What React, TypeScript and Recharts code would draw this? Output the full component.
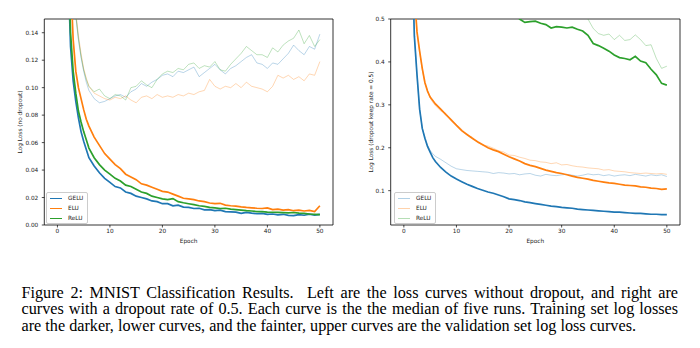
import { LineChart, Line, XAxis, YAxis, ReferenceArea } from "recharts";

// epoch positions (denser at the start where the curves drop fast)
const epochs = [
  1, 2, 2.5, 3, 3.5, 4, 4.5, 5, 5.5, 6,
  7, 8, 9, 10, 11, 12, 13, 14, 15, 16,
  17, 18, 19, 20, 21, 22, 23, 24, 25, 26,
  27, 28, 29, 30, 31, 32, 33, 34, 35, 36,
  37, 38, 39, 40, 41, 42, 43, 44, 45, 46,
  47, 48, 49, 50,
];

// ---- left: no dropout ----
const noDropGeluTrain = [
  0.4, 0.19, 0.13, 0.105, 0.09, 0.078, 0.068, 0.061, 0.055, 0.049,
  0.043, 0.038, 0.034, 0.031, 0.028, 0.027, 0.024, 0.023, 0.021, 0.02,
  0.019, 0.0175, 0.017, 0.0155, 0.0155, 0.014, 0.0145, 0.013, 0.0128, 0.012,
  0.0122, 0.011, 0.0112, 0.0105, 0.0108, 0.0098, 0.0096, 0.0094, 0.0085, 0.0092,
  0.0086, 0.0082, 0.0085, 0.0078, 0.008, 0.0074, 0.0078, 0.007, 0.0068, 0.0076,
  0.0071, 0.0079, 0.0072, 0.0078,
];
const noDropEluTrain = [
  0.5, 0.26, 0.18, 0.135, 0.112, 0.1, 0.092, 0.084, 0.077, 0.072,
  0.064, 0.058, 0.052, 0.048, 0.044, 0.041, 0.037, 0.035, 0.033, 0.03,
  0.029, 0.0275, 0.026, 0.0245, 0.024, 0.0225, 0.021, 0.0195, 0.019, 0.0185,
  0.0175, 0.017, 0.016, 0.0155, 0.0158, 0.0145, 0.014, 0.0138, 0.0132, 0.0128,
  0.0125, 0.0122, 0.012, 0.0125, 0.0112, 0.0115, 0.0108, 0.0112, 0.0104, 0.0108,
  0.0102, 0.0106, 0.0098, 0.014,
];
const noDropReluTrain = [
  0.42, 0.2, 0.14, 0.112, 0.096, 0.083, 0.075, 0.068, 0.062, 0.056,
  0.049, 0.044, 0.04, 0.037, 0.034, 0.032, 0.029, 0.028, 0.026, 0.024,
  0.023, 0.021, 0.02, 0.019, 0.0185, 0.0192, 0.017, 0.0162, 0.0155, 0.0148,
  0.014, 0.0135, 0.0128, 0.0125, 0.012, 0.0122, 0.0115, 0.0112, 0.0108, 0.0104,
  0.0102, 0.0098, 0.0097, 0.0094, 0.0093, 0.0092, 0.009, 0.0088, 0.0091, 0.0086,
  0.0084, 0.008, 0.0078, 0.0075,
];
const noDropGeluVal = [
  0.4, 0.25, 0.2, 0.17, 0.152, 0.135, 0.122, 0.112, 0.104, 0.098,
  0.092, 0.089, 0.09, 0.092, 0.094, 0.095, 0.093, 0.097, 0.099, 0.103,
  0.101, 0.104, 0.106, 0.109, 0.11, 0.108, 0.112, 0.111, 0.113, 0.115,
  0.108, 0.111, 0.114, 0.117, 0.113, 0.11, 0.114, 0.116, 0.119, 0.122,
  0.124, 0.118, 0.117, 0.114, 0.118, 0.117, 0.121, 0.125, 0.131, 0.127,
  0.124, 0.13, 0.128, 0.139,
];
const noDropEluVal = [
  0.42, 0.27, 0.21, 0.18, 0.155, 0.138, 0.125, 0.114, 0.107, 0.101,
  0.096, 0.094, 0.092, 0.091, 0.093, 0.092, 0.094, 0.091, 0.089, 0.093,
  0.094, 0.092, 0.095, 0.093, 0.094, 0.093, 0.095, 0.094, 0.096, 0.095,
  0.097, 0.098, 0.106, 0.101, 0.099, 0.101, 0.1, 0.103, 0.1, 0.104,
  0.101, 0.1, 0.099, 0.097, 0.101, 0.109, 0.107, 0.109, 0.106, 0.108,
  0.105, 0.11, 0.109, 0.119,
];
const noDropReluVal = [
  0.41, 0.26, 0.205, 0.172, 0.153, 0.136, 0.123, 0.113, 0.106, 0.101,
  0.097, 0.099, 0.094, 0.092, 0.095, 0.094, 0.091, 0.1, 0.101, 0.105,
  0.102, 0.1, 0.106, 0.11, 0.112, 0.111, 0.114, 0.113, 0.117, 0.118,
  0.114, 0.116, 0.115, 0.119, 0.113, 0.112, 0.117, 0.121, 0.125, 0.13,
  0.127, 0.124, 0.124, 0.122, 0.129, 0.126, 0.131, 0.134, 0.136, 0.142,
  0.132, 0.138, 0.13, 0.135,
];

// ---- right: dropout keep rate 0.5 ----
const dropGeluTrain = [
  0.9, 0.46, 0.37, 0.29, 0.245, 0.222, 0.203, 0.19, 0.177, 0.168,
  0.154, 0.143, 0.134, 0.127, 0.121, 0.115, 0.11, 0.105, 0.101, 0.097,
  0.094, 0.09, 0.086, 0.081, 0.079, 0.077, 0.074, 0.072, 0.07, 0.068,
  0.066, 0.064, 0.063, 0.061, 0.06, 0.059, 0.057, 0.056, 0.055, 0.054,
  0.053, 0.052, 0.051, 0.05, 0.05, 0.049, 0.048, 0.047, 0.047, 0.046,
  0.045, 0.045, 0.044, 0.044,
];
const dropEluTrain = [
  1.2, 0.56, 0.47, 0.425, 0.385, 0.352, 0.332, 0.318, 0.31, 0.302,
  0.29, 0.277, 0.265, 0.252, 0.24, 0.231, 0.222, 0.214, 0.207, 0.2,
  0.195, 0.191, 0.185, 0.179, 0.174, 0.169, 0.163, 0.159, 0.156, 0.152,
  0.148, 0.145, 0.142, 0.14, 0.137, 0.134, 0.131, 0.129, 0.127, 0.124,
  0.122, 0.12, 0.118, 0.117, 0.115, 0.113, 0.112, 0.111, 0.109, 0.108,
  0.106, 0.105, 0.103, 0.104,
];
const dropReluTrain = [
  2.3, 2.2, 2.1, 2.0, 1.9, 1.8, 1.7, 1.6, 1.5, 1.4,
  1.25, 1.12, 1.02, 0.94, 0.87, 0.81, 0.76, 0.72, 0.68, 0.65,
  0.62, 0.59, 0.565, 0.545, 0.515, 0.5, 0.492, 0.494, 0.495, 0.49,
  0.487, 0.479, 0.482, 0.481, 0.479, 0.481, 0.476, 0.472, 0.462, 0.443,
  0.438, 0.432, 0.425, 0.416, 0.41, 0.408, 0.405, 0.413, 0.402, 0.398,
  0.383, 0.37, 0.35, 0.346,
];
const dropGeluVal = [
  0.9, 0.46, 0.37, 0.29, 0.246, 0.224, 0.206, 0.194, 0.186, 0.18,
  0.173, 0.165, 0.157, 0.151, 0.149, 0.147, 0.146, 0.145, 0.144, 0.143,
  0.14, 0.142, 0.141, 0.139, 0.14, 0.137, 0.139, 0.14, 0.136, 0.134,
  0.138, 0.136, 0.135, 0.137, 0.138, 0.136, 0.134, 0.136, 0.139, 0.137,
  0.138, 0.135, 0.137, 0.134, 0.136, 0.137, 0.135, 0.138, 0.136, 0.134,
  0.137, 0.135, 0.137, 0.133,
];
const dropEluVal = [
  1.2, 0.56, 0.47, 0.424, 0.383, 0.35, 0.333, 0.316, 0.306, 0.298,
  0.286, 0.28, 0.262, 0.254, 0.243, 0.229, 0.225, 0.212, 0.206, 0.204,
  0.199, 0.193, 0.19, 0.183, 0.182, 0.178, 0.175, 0.171, 0.17, 0.167,
  0.166, 0.163, 0.165, 0.16, 0.161, 0.158, 0.156, 0.155, 0.153, 0.152,
  0.151, 0.148, 0.149, 0.146, 0.145, 0.144, 0.142, 0.141, 0.14, 0.141,
  0.14, 0.139, 0.14, 0.138,
];
const dropReluVal = [
  2.3, 2.25, 2.2, 2.15, 2.1, 2.05, 2.0, 1.95, 1.9, 1.85,
  1.75, 1.65, 1.55, 1.45, 1.36, 1.28, 1.2, 1.13, 1.07, 1.01,
  0.96, 0.91, 0.87, 0.83, 0.79, 0.76, 0.73, 0.7, 0.68, 0.66,
  0.64, 0.62, 0.6, 0.58, 0.57, 0.56, 0.545, 0.525, 0.5, 0.478,
  0.466, 0.462, 0.465, 0.452, 0.462, 0.45, 0.452, 0.463, 0.452, 0.438,
  0.44, 0.408, 0.385, 0.39,
];

const xTicks = [0, 10, 20, 30, 40, 50];
const leftYTicks = [0, 0.02, 0.04, 0.06, 0.08, 0.1, 0.12, 0.14];
const rightYTicks = [0.1, 0.2, 0.3, 0.4, 0.5];
const names = ["GELU", "ELU", "ReLU"];

const BLUE = "#1f77b4";
const ORANGE = "#ff7f0e";
const GREEN = "#2ca02c";
const colors = [BLUE, ORANGE, GREEN];
const FONT = "DejaVu Sans";
const tickStyle = { fontSize: 5.8, fill: "#222", fontFamily: FONT };

const leftData = epochs.map((epoch, i) => ({
  epoch,
  geluTrain: noDropGeluTrain[i],
  eluTrain: noDropEluTrain[i],
  reluTrain: noDropReluTrain[i],
  geluVal: noDropGeluVal[i],
  eluVal: noDropEluVal[i],
  reluVal: noDropReluVal[i],
}));

const rightData = epochs.map((epoch, i) => ({
  epoch,
  geluTrain: dropGeluTrain[i],
  eluTrain: dropEluTrain[i],
  reluTrain: dropReluTrain[i],
  geluVal: dropGeluVal[i],
  eluVal: dropEluVal[i],
  reluVal: dropReluVal[i],
}));

function LegendBox({ faint, left }: { faint: boolean; left: number }) {
  return (
    <div
      style={{
        position: "absolute",
        left,
        top: 192,
        width: 40,
        height: 30,
        border: "0.8px solid #ccc",
        borderRadius: 2,
        background: "rgba(255,255,255,0.85)",
        fontFamily: FONT,
        fontSize: 5.8,
        color: "#222",
      }}
    >
      {names.map((n, i) => (
        <div key={n} style={{ position: "absolute", left: 0, top: 1 + i * 10, height: 8, width: 40 }}>
          <div
            style={{
              position: "absolute",
              left: 3,
              top: 3.5,
              width: 12,
              height: faint ? 1 : 1.4,
              background: colors[i],
              opacity: faint ? 0.35 : 1,
            }}
          />
          <div style={{ position: "absolute", left: 21, top: 0, lineHeight: "8px" }}>{n}</div>
        </div>
      ))}
    </div>
  );
}

function Panel({ data, yDomain, yTicks, yFmt, yLabel, yAxisWidth, labelOffset, marginRight }: any) {
  return (
    <LineChart
      width={345}
      height={250}
      data={data}
      margin={{ top: 19, right: marginRight, bottom: 0, left: 0 }}
    >
      <XAxis
        dataKey="epoch"
        type="number"
        domain={[-2.5, 52.5]}
        ticks={xTicks}
        allowDataOverflow
        axisLine={false}
        tickLine={{ stroke: "#000", strokeWidth: 0.7 }}
        tickSize={2.5}
        tickMargin={1}
        height={25}
        tick={tickStyle}
        label={{
          value: "Epoch",
          position: "insideBottom",
          offset: 7,
          style: { fontSize: 5.8, fill: "#222", fontFamily: FONT },
        }}
      />
      <YAxis
        type="number"
        domain={yDomain}
        ticks={yTicks}
        allowDataOverflow
        tickFormatter={yFmt}
        axisLine={false}
        tickLine={{ stroke: "#000", strokeWidth: 0.7 }}
        tickSize={2.5}
        tickMargin={3.5}
        width={yAxisWidth}
        tick={tickStyle}
        label={{
          value: yLabel,
          angle: -90,
          position: "insideLeft",
          offset: labelOffset,
          style: { fontSize: 5.8, fill: "#222", fontFamily: FONT, textAnchor: "middle" },
        }}
      />
      <Line dataKey="geluVal" stroke={BLUE} strokeOpacity={0.35} strokeWidth={0.9} dot={false} isAnimationActive={false} />
      <Line dataKey="eluVal" stroke={ORANGE} strokeOpacity={0.35} strokeWidth={0.9} dot={false} isAnimationActive={false} />
      <Line dataKey="reluVal" stroke={GREEN} strokeOpacity={0.35} strokeWidth={0.9} dot={false} isAnimationActive={false} />
      <Line dataKey="geluTrain" stroke={BLUE} strokeWidth={1.7} dot={false} isAnimationActive={false} />
      <Line dataKey="eluTrain" stroke={ORANGE} strokeWidth={1.7} dot={false} isAnimationActive={false} />
      <Line dataKey="reluTrain" stroke={GREEN} strokeWidth={1.7} dot={false} isAnimationActive={false} />
      <ReferenceArea
        x1={-2.5}
        x2={52.5}
        y1={yDomain[0]}
        y2={yDomain[1]}
        fill="none"
        stroke="#000"
        strokeWidth={0.8}
      />
    </LineChart>
  );
}

const caption =
  "Figure 2: MNIST Classification Results.\u00a0 Left are the loss curves without dropout, and right are " +
  "curves with a dropout rate of 0.5. Each curve is the the median of five runs. Training set log losses " +
  "are the darker, lower curves, and the fainter, upper curves are the validation set log loss curves.";

export default function App() {
  return (
    <div style={{ position: "absolute", left: 0, top: 0, width: 700, height: 348, background: "#fff" }}>
      <div style={{ position: "absolute", left: 0, top: 0 }}>
        <Panel
          data={leftData}
          yDomain={[0, 0.15]}
          yTicks={leftYTicks}
          yFmt={(v: number) => v.toFixed(2)}
          yLabel="Log Loss (no dropout)"
          yAxisWidth={44.3}
          labelOffset={20}
          marginRight={12}
        />
        <LegendBox faint={false} left={46} />
      </div>
      <div style={{ position: "absolute", left: 350, top: 0 }}>
        <Panel
          data={rightData}
          yDomain={[0.02, 0.5]}
          yTicks={rightYTicks}
          yFmt={(v: number) => v.toFixed(1)}
          yLabel="Log Loss (dropout keep rate = 0.5)"
          yAxisWidth={40.7}
          labelOffset={21}
          marginRight={15}
        />
        <LegendBox faint={true} left={44} />
      </div>
      <div
        style={{
          position: "absolute",
          left: 21.5,
          top: 284.6,
          width: 656.5,
          fontFamily: "Liberation Serif",
          fontSize: 16.2,
          lineHeight: "16.5px",
          textAlign: "justify",
          color: "#000",
        }}
      >
        {caption}
      </div>
    </div>
  );
}
